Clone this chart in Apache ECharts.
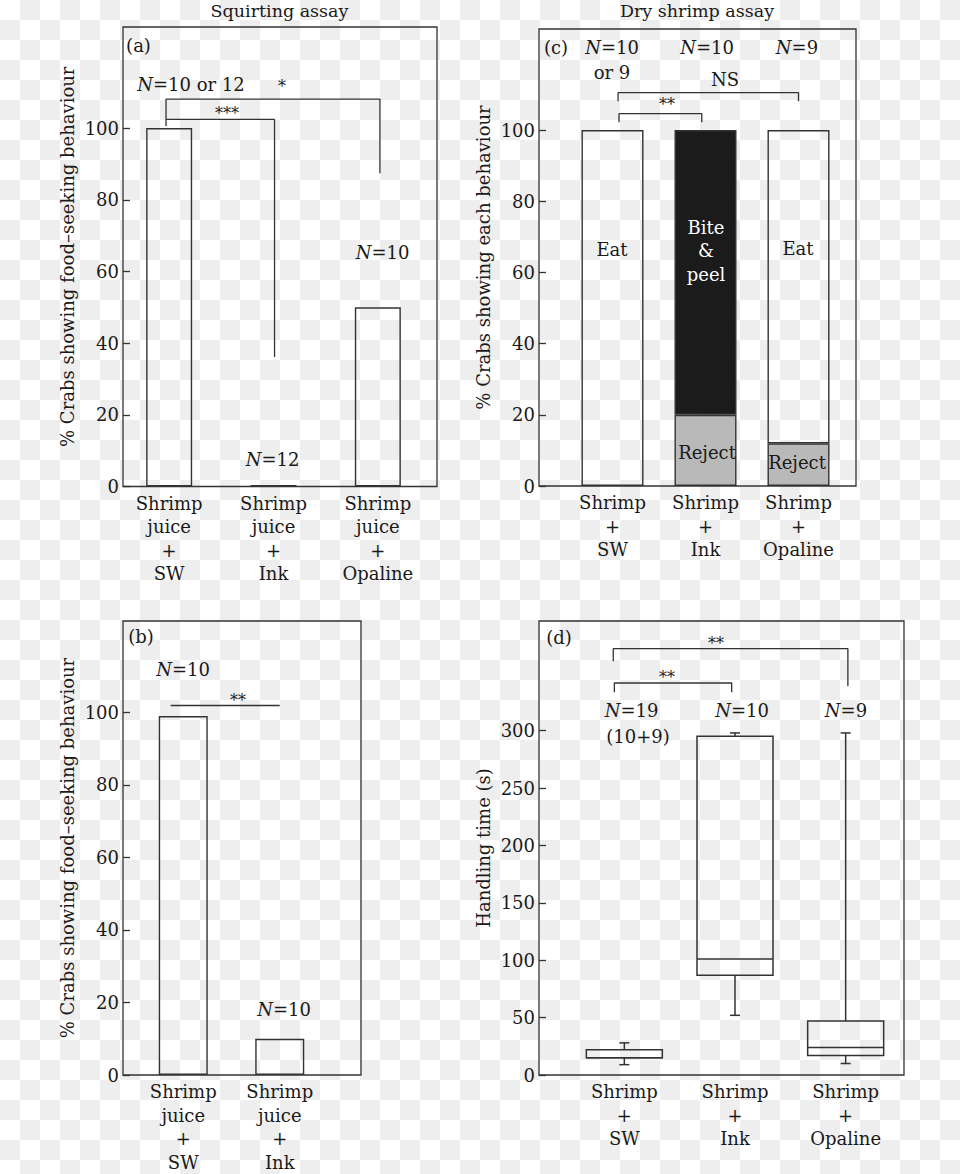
<!DOCTYPE html>
<html>
<head>
<meta charset="utf-8">
<script src="https://cdn.jsdelivr.net/npm/echarts@6/dist/echarts.min.js"></script>
<style>
  html, body { margin: 0; padding: 0; }
  #chart {
    width: 960px; height: 1174px;
    background-color: #fff;
    background-image: conic-gradient(#eeeeee 25%, transparent 0 50%, #eeeeee 0 75%, transparent 0);
    background-size: 40px 40px;
  }
</style>
</head>
<body>
<div id="chart"></div>
<script>
// ---- data ----
const catsA = ['Shrimp\njuice\n+\nSW', 'Shrimp\njuice\n+\nInk', 'Shrimp\njuice\n+\nOpaline'];
const valsA = [100, 0.4, 50];

const catsB = ['Shrimp\njuice\n+\nSW', 'Shrimp\njuice\n+\nInk'];
const valsB = [99, 10];

const catsC = ['Shrimp\n+\nSW', 'Shrimp\n+\nInk', 'Shrimp\n+\nOpaline'];
const rejectC = [null, 20, 12];
const biteC = [null, 80, null];
const eatC = [100, null, 88];

const catsD = ['Shrimp\n+\nSW', 'Shrimp\n+\nInk', 'Shrimp\n+\nOpaline'];
// low whisker, Q1, median, Q3, high whisker (s)
const boxD = [
  [9, 15, 15, 22, 28],
  [52, 87, 101, 295, 298],
  [10, 17, 24, 47, 298]
];

const ticksPct = [0, 20, 40, 60, 80, 100];
const ticksTime = [0, 50, 100, 150, 200, 250, 300];

// significance brackets: [category position, value] corner points
const bracketsA = [
  [[-0.03, 100.6], [-0.03, 108.1], [2.02, 108.1], [2.02, 87.4]],
  [[-0.03, 102.4], [1.01, 102.4], [1.01, 36.1]]
];
const bracketsB = [
  [[-0.13, 101.9], [1.0, 101.9]]
];
const bracketsC = [
  [[0.06, 108.1], [0.06, 110.5], [2.0, 110.5], [2.0, 108.1]],
  [[0.07, 102.2], [0.07, 104.6], [0.96, 104.6], [0.96, 102.2]]
];
const bracketsD = [
  [[-0.1, 360.4], [-0.1, 371.4], [2.02, 371.4], [2.02, 338.6]],
  [[-0.09, 333.4], [-0.09, 341.5], [0.97, 341.5], [0.97, 333.4]]
];

// ---- styling ----
const FONT = 'DejaVu Serif';
const FS = 18;
const INK = '#1a1a1a';
const LINE = '#333';

const chart = echarts.init(document.getElementById('chart'), null, { renderer: 'svg' });

const grid = [], xAxis = [], yAxis = [], series = [];

function panel(p) {
  const gf = grid.length;
  grid.push({ left: p.left, top: p.top, width: p.width, height: p.height,
    show: true, borderColor: LINE, borderWidth: 1.3, backgroundColor: 'transparent' });
  const gd = grid.length;
  grid.push({ left: p.dLeft, top: p.top, width: p.dWidth, height: p.height });

  xAxis.push({ gridIndex: gf, type: 'value', min: 0, max: 1, show: false });
  yAxis.push({
    gridIndex: gf, type: 'value', min: 0, max: p.max,
    axisLine: { show: false },
    splitLine: { show: false },
    axisTick: { show: true, inside: true, length: 7, customValues: p.ticks,
      lineStyle: { color: LINE, width: 1.3 } },
    axisLabel: { customValues: p.ticks, margin: 4, fontSize: FS, fontFamily: FONT, color: INK },
    name: p.name, nameLocation: 'middle', nameGap: 56, nameRotate: 90,
    nameTextStyle: { fontSize: FS, fontFamily: FONT, color: INK, verticalAlign: 'middle' }
  });

  const xCat = xAxis.length;
  xAxis.push({
    gridIndex: gd, type: 'category', data: p.cats,
    axisLine: { show: false }, axisTick: { show: false },
    axisLabel: { interval: 0, fontSize: FS, fontFamily: FONT, color: INK, lineHeight: 23.5, margin: 5 }
  });
  const xVal = xAxis.length;
  xAxis.push({ gridIndex: gd, type: 'value', min: -0.5, max: p.cats.length - 0.5, show: false });
  const yData = yAxis.length;
  yAxis.push({ gridIndex: gd, type: 'value', min: 0, max: p.max, show: false });

  p.brackets.forEach(b => series.push({
    type: 'line', xAxisIndex: xVal, yAxisIndex: yData, data: b,
    symbol: 'none', silent: true, animation: false,
    lineStyle: { color: LINE, width: 1.3 }
  }));
  return { xCat, yData };
}

const barStyle = (fill) => ({ color: fill, borderColor: LINE, borderWidth: 1.4 });

// (a)
const pa = panel({ left: 123, top: 27, width: 314, height: 459.5, dLeft: 117, dWidth: 313,
  max: 128.2, ticks: ticksPct, cats: catsA, brackets: bracketsA,
  name: '% Crabs showing food\u2013seeking behaviour' });
series.push({ type: 'bar', xAxisIndex: pa.xCat, yAxisIndex: pa.yData, data: valsA,
  barWidth: 46, itemStyle: barStyle('rgba(0,0,0,0)'), animation: false });

// (c)
const pc = panel({ left: 539, top: 29, width: 317, height: 457, dLeft: 566, dWidth: 279,
  max: 128.4, ticks: ticksPct, cats: catsC, brackets: bracketsC,
  name: '% Crabs showing each behaviour' });
[[rejectC, '#b9b9b9'], [biteC, '#1b1b1b'], [eatC, 'rgba(0,0,0,0)']].forEach(([d, c]) =>
  series.push({ type: 'bar', stack: 'c', xAxisIndex: pc.xCat, yAxisIndex: pc.yData, data: d,
    barWidth: 62, itemStyle: barStyle(c), animation: false }));

// (b)
const pb = panel({ left: 123, top: 621, width: 238, height: 454, dLeft: 135, dWidth: 193,
  max: 125.2, ticks: ticksPct, cats: catsB, brackets: bracketsB,
  name: '% Crabs showing food\u2013seeking behaviour' });
series.push({ type: 'bar', xAxisIndex: pb.xCat, yAxisIndex: pb.yData, data: valsB,
  barWidth: 49, itemStyle: barStyle('rgba(0,0,0,0)'), animation: false });

// (d)
const pd = panel({ left: 539, top: 621, width: 365, height: 454, dLeft: 569, dWidth: 332,
  max: 395.5, ticks: ticksTime, cats: catsD, brackets: bracketsD,
  name: 'Handling time (s)' });
series.push({
  type: 'custom', xAxisIndex: pd.xCat, yAxisIndex: pd.yData, animation: false,
  data: boxD.map((b, i) => [i].concat(b)),
  renderItem: (params, api) => {
    const i = api.value(0);
    const p = [1, 2, 3, 4, 5].map(d => api.coord([i, api.value(d)]));
    const cx = p[0][0], hw = 38, cw = 5;
    const st = { stroke: LINE, lineWidth: 1.5, fill: 'rgba(0,0,0,0)' };
    return { type: 'group', children: [
      { type: 'line', shape: { x1: cx, y1: p[0][1], x2: cx, y2: p[1][1] }, style: st },
      { type: 'line', shape: { x1: cx, y1: p[3][1], x2: cx, y2: p[4][1] }, style: st },
      { type: 'line', shape: { x1: cx - cw, y1: p[0][1], x2: cx + cw, y2: p[0][1] }, style: st },
      { type: 'line', shape: { x1: cx - cw, y1: p[4][1], x2: cx + cw, y2: p[4][1] }, style: st },
      { type: 'rect', shape: { x: cx - hw, y: p[3][1], width: 2 * hw, height: p[1][1] - p[3][1] }, style: st },
      { type: 'line', shape: { x1: cx - hw, y1: p[2][1], x2: cx + hw, y2: p[2][1] }, style: st }
    ] };
  }
});

// ---- annotation text ----
function t(x, y, text, size, fill) {
  const s = size || FS, f = fill || INK;
  return {
    type: 'text', x, y, z: 100, silent: true,
    style: {
      text, fill: f, fontSize: s, fontFamily: FONT,
      align: 'center', verticalAlign: 'middle',
      rich: { i: { fontStyle: 'italic', fontSize: s, fontFamily: FONT, fill: f } }
    }
  };
}
const star = (x, y, s) => t(x, y + 4, s, 16);

const graphic = [
  t(279.5, 11, 'Squirting assay', 17.5),
  t(697, 11, 'Dry shrimp assay', 17.5),
  // (a)
  t(138.5, 45, '(a)'),
  t(191, 84, '{i|N}=10 or 12'),
  star(282, 82, '*'),
  star(227, 109, '***'),
  t(382.5, 252, '{i|N}=10'),
  t(272.5, 459.5, '{i|N}=12'),
  // (c)
  t(556, 47.5, '(c)'),
  t(612, 47, '{i|N}=10'),
  t(612, 72, 'or 9'),
  t(707, 47, '{i|N}=10'),
  t(797, 47, '{i|N}=9'),
  t(725, 79, 'NS'),
  star(667, 100, '**'),
  t(612, 249, 'Eat'),
  t(706, 227, 'Bite', FS, '#fff'),
  t(706, 250, '&', FS, '#fff'),
  t(706, 274, 'peel', FS, '#fff'),
  t(798, 248, 'Eat'),
  t(707, 452, 'Reject'),
  t(797, 462, 'Reject'),
  // (b)
  t(141, 636, '(b)'),
  t(183, 669, '{i|N}=10'),
  star(238, 696, '**'),
  t(284, 1009, '{i|N}=10'),
  // (d)
  t(559, 637, '(d)'),
  star(716, 639, '**'),
  star(667, 673, '**'),
  t(631.5, 710, '{i|N}=19'),
  t(638, 736, '(10+9)'),
  t(742, 710, '{i|N}=10'),
  t(846, 710, '{i|N}=9')
];

chart.setOption({
  backgroundColor: 'transparent',
  animation: false,
  grid, xAxis, yAxis, series, graphic
});
</script>
</body>
</html>
